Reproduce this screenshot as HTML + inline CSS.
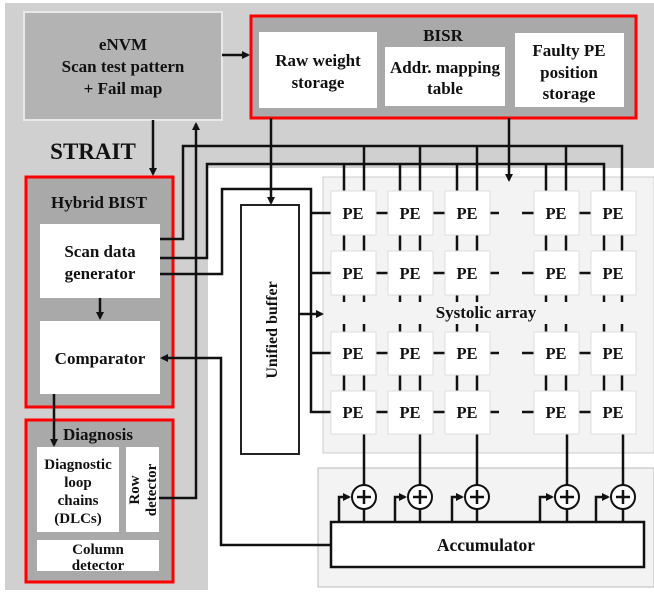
<!DOCTYPE html>
<html><head><meta charset="utf-8"><style>
html,body{margin:0;padding:0;background:#fff;}
svg{display:block;}
text{font-family:"Liberation Serif",serif;font-weight:bold;fill:#111;}
</style></head><body>
<svg width="654" height="598" viewBox="0 0 654 598" xmlns="http://www.w3.org/2000/svg">
<defs>
<marker id="ah" markerWidth="8" markerHeight="8" refX="6" refY="4" orient="auto" markerUnits="userSpaceOnUse">
<path d="M0,0 L8,4 L0,8 z" fill="#111"/></marker>
</defs>
<path d="M5,3 H654 V168 H208 V590 H5 Z" fill="#d0d0d0"/>
<rect x="323" y="177" width="331" height="276" fill="#f3f3f3" stroke="#ccc"/>
<rect x="318" y="468" width="336" height="119" fill="#f3f3f3" stroke="#bbb"/>
<rect x="24" y="12" width="198" height="108" fill="#b3b3b3" stroke="#e8e8e8" stroke-width="2"/>
<text x="123" y="50" font-size="17" text-anchor="middle">eNVM</text>
<text x="123" y="72" font-size="17" text-anchor="middle">Scan test pattern</text>
<text x="123" y="94" font-size="17" text-anchor="middle">+ Fail map</text>
<rect x="251" y="16" width="385" height="102" fill="#a9a9a9" stroke="#f00" stroke-width="3"/>
<text x="443" y="41" font-size="17" text-anchor="middle">BISR</text>
<rect x="259" y="32" width="118" height="76" fill="#fff"/>
<text x="318" y="66" font-size="17" text-anchor="middle">Raw weight</text>
<text x="318" y="88" font-size="17" text-anchor="middle">storage</text>
<rect x="385" y="47" width="120" height="59" fill="#fff"/>
<text x="445" y="73" font-size="17" text-anchor="middle">Addr. mapping</text>
<text x="445" y="94" font-size="17" text-anchor="middle">table</text>
<rect x="515" y="33" width="109" height="74" fill="#fff"/>
<text x="569" y="56" font-size="17" text-anchor="middle">Faulty PE</text>
<text x="569" y="78" font-size="17" text-anchor="middle">position</text>
<text x="569" y="99" font-size="17" text-anchor="middle">storage</text>
<text x="93" y="159" font-size="23" text-anchor="middle" fill="#222">STRAIT</text>
<rect x="26" y="177" width="147" height="230" fill="#a9a9a9" stroke="#f00" stroke-width="3"/>
<text x="99" y="208" font-size="17" text-anchor="middle">Hybrid BIST</text>
<rect x="40" y="224" width="120" height="74" fill="#fff"/>
<text x="100" y="257" font-size="17" text-anchor="middle">Scan data</text>
<text x="100" y="279" font-size="17" text-anchor="middle">generator</text>
<rect x="40" y="321" width="120" height="73" fill="#fff"/>
<text x="100" y="364" font-size="17" text-anchor="middle">Comparator</text>
<rect x="26" y="420" width="147" height="162" fill="#a9a9a9" stroke="#f00" stroke-width="3"/>
<text x="98" y="440" font-size="17" text-anchor="middle">Diagnosis</text>
<rect x="37" y="447" width="82" height="85" fill="#fff"/>
<text x="78" y="469" font-size="15" text-anchor="middle">Diagnostic</text>
<text x="78" y="487" font-size="15" text-anchor="middle">loop</text>
<text x="78" y="505" font-size="15" text-anchor="middle">chains</text>
<text x="78" y="523" font-size="15" text-anchor="middle">(DLCs)</text>
<rect x="126" y="447" width="33" height="85" fill="#fff"/>
<text transform="translate(139,490) rotate(-90)" font-size="15" text-anchor="middle">Row</text>
<text transform="translate(156,490) rotate(-90)" font-size="15" text-anchor="middle">detector</text>
<rect x="37" y="540" width="122" height="31" fill="#fff"/>
<text x="98" y="554" font-size="15" text-anchor="middle">Column</text>
<text x="98" y="570" font-size="15" text-anchor="middle">detector</text>
<rect x="241" y="205" width="58" height="249" fill="#fff" stroke="#222" stroke-width="2"/>
<text transform="translate(277,330) rotate(-90)" font-size="16" text-anchor="middle">Unified buffer</text>
<text x="486" y="318" font-size="17" text-anchor="middle">Systolic array</text>

<g stroke="#111" stroke-width="2.5" fill="none">
<line x1="222" y1="55" x2="248" y2="55" marker-end="url(#ah)"/>
<line x1="153" y1="120" x2="153" y2="174" marker-end="url(#ah)"/>
<polyline points="159,498 196,498 196,124" marker-end="url(#ah)"/>
<line x1="271" y1="118" x2="271" y2="203" marker-end="url(#ah)"/>
<line x1="509" y1="118" x2="509" y2="180" marker-end="url(#ah)"/>
<polyline points="160,239 183,239 183,146 622,146 622,191"/>
<line x1="364" y1="146" x2="364" y2="191"/>
<line x1="420" y1="146" x2="420" y2="191"/>
<line x1="477" y1="146" x2="477" y2="191"/>
<line x1="566" y1="146" x2="566" y2="191"/>
<polyline points="160,258 207,258 207,164 604,164 604,191"/>
<line x1="344" y1="164" x2="344" y2="191"/>
<line x1="400" y1="164" x2="400" y2="191"/>
<line x1="457" y1="164" x2="457" y2="191"/>
<line x1="546" y1="164" x2="546" y2="191"/>
<polyline points="160,274 222,274 222,189 311,189 311,412 331,412"/>
<line x1="311" y1="213" x2="331" y2="213"/>
<line x1="311" y1="273" x2="331" y2="273"/>
<line x1="311" y1="353" x2="331" y2="353"/>
<line x1="299" y1="314" x2="322" y2="314" marker-end="url(#ah)"/>
<line x1="100" y1="298" x2="100" y2="318" marker-end="url(#ah)"/>
<line x1="54" y1="394" x2="54" y2="445" marker-end="url(#ah)"/>
<polyline points="331,545 221,545 221,358 162,358" marker-end="url(#ah)"/>
</g>
<g stroke="#111" stroke-width="2.5">
<path d="M344,235V251M364,235V251M400,235V251M420,235V251M457,235V251M477,235V251M546,235V251M566,235V251M604,235V251M622,235V251
M344,295V302M364,295V302M400,295V302M420,295V302M457,295V302M477,295V302M546,295V302M566,295V302M604,295V302M622,295V302
M344,324V332M364,324V332M400,324V332M420,324V332M457,324V332M477,324V332M546,324V332M566,324V332M604,324V332M622,324V332
M344,375V391M364,375V391M400,375V391M420,375V391M457,375V391M477,375V391M546,375V391M566,375V391M604,375V391M622,375V391
M364,434V522M420,434V522M477,434V522M567,434V522M623,434V522"/>
<path d="M376,213H388M433,213H445M490,213H499M522,213H534M579,213H591
M376,273H388M433,273H445M490,273H499M522,273H534M579,273H591
M376,353H388M433,353H445M490,353H499M522,353H534M579,353H591
M376,412H388M433,412H445M490,412H499M522,412H534M579,412H591"/>
</g>
<g fill="#fff" stroke="#ddd" stroke-width="1">
<rect x="331" y="191" width="45" height="44"/><rect x="388" y="191" width="45" height="44"/><rect x="445" y="191" width="45" height="44"/><rect x="534" y="191" width="45" height="44"/><rect x="591" y="191" width="45" height="44"/>
<rect x="331" y="251" width="45" height="44"/><rect x="388" y="251" width="45" height="44"/><rect x="445" y="251" width="45" height="44"/><rect x="534" y="251" width="45" height="44"/><rect x="591" y="251" width="45" height="44"/>
<rect x="331" y="332" width="45" height="43"/><rect x="388" y="332" width="45" height="43"/><rect x="445" y="332" width="45" height="43"/><rect x="534" y="332" width="45" height="43"/><rect x="591" y="332" width="45" height="43"/>
<rect x="331" y="391" width="45" height="43"/><rect x="388" y="391" width="45" height="43"/><rect x="445" y="391" width="45" height="43"/><rect x="534" y="391" width="45" height="43"/><rect x="591" y="391" width="45" height="43"/>
</g>
<g font-size="16.5" text-anchor="middle">
<text x="353" y="219">PE</text><text x="410" y="219">PE</text><text x="467" y="219">PE</text><text x="556" y="219">PE</text><text x="613" y="219">PE</text>
<text x="353" y="279">PE</text><text x="410" y="279">PE</text><text x="467" y="279">PE</text><text x="556" y="279">PE</text><text x="613" y="279">PE</text>
<text x="353" y="359">PE</text><text x="410" y="359">PE</text><text x="467" y="359">PE</text><text x="556" y="359">PE</text><text x="613" y="359">PE</text>
<text x="353" y="418">PE</text><text x="410" y="418">PE</text><text x="467" y="418">PE</text><text x="556" y="418">PE</text><text x="613" y="418">PE</text>
</g>
<g stroke="#111" stroke-width="2.5" fill="none">
<polyline points="339,522 339,497 349,497" marker-end="url(#ah)"/>
<polyline points="395,522 395,497 405,497" marker-end="url(#ah)"/>
<polyline points="452,522 452,497 462,497" marker-end="url(#ah)"/>
<polyline points="540,522 540,497 552,497" marker-end="url(#ah)"/>
<polyline points="596,522 596,497 608,497" marker-end="url(#ah)"/>
</g>
<g stroke="#111" stroke-width="2" fill="#fff">
<circle cx="364" cy="497" r="12"/><circle cx="420" cy="497" r="12"/><circle cx="477" cy="497" r="12"/><circle cx="567" cy="497" r="12"/><circle cx="623" cy="497" r="12"/>
</g>
<g stroke="#111" stroke-width="2.5">
<path d="M357,497H371M364,490V504M413,497H427M420,490V504M470,497H484M477,490V504M560,497H574M567,490V504M616,497H630M623,490V504"/>
</g>
<rect x="331" y="522" width="313" height="45" fill="#fff" stroke="#111" stroke-width="2.5"/>
<text x="486" y="551" font-size="17.5" text-anchor="middle">Accumulator</text>
</svg>
</body></html>
